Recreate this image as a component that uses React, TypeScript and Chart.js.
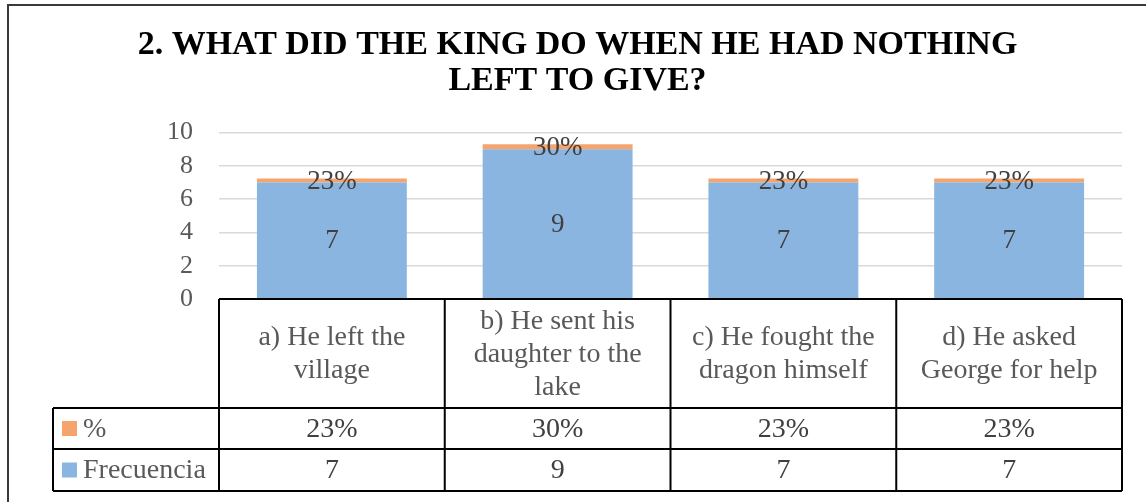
import React, { useEffect, useRef } from "react";
import { Chart, registerables } from "chart.js";

Chart.register(...registerables);

const titleLines = ["2. WHAT DID THE KING DO WHEN HE HAD NOTHING", "LEFT TO GIVE?"];
const categories = [
  ["a) He left the", "village"],
  ["b) He sent his", "daughter to the", "lake"],
  ["c) He fought the", "dragon himself"],
  ["d) He asked", "George for help"],
];
const frecuencia = [7, 9, 7, 7];
const porcentaje = [0.23, 0.3, 0.23, 0.23];
const seriesNames = ["Frecuencia", "%"];
const seriesColors = ["#8AB5E0", "#F4A46C"];
const yMin = 0;
const yMax = 10;
const yStep = 2;

const FONT = "'Liberation Serif', 'Times New Roman', serif";

const fmtPct = (v: number) => Math.round(v * 100) + "%";

const labelPlugin = {
  id: "barLabels",
  afterDatasetsDraw(chart: any) {
    const { ctx } = chart;
    ctx.save();
    ctx.font = `27px ${FONT}`;
    ctx.fillStyle = "#404040";
    ctx.textAlign = "center";
    ctx.textBaseline = "middle";
    chart.data.datasets.forEach((ds: any, di: number) => {
      const meta = chart.getDatasetMeta(di);
      meta.data.forEach((el: any, i: number) => {
        const v = ds.data[i];
        const txt = di === 0 ? String(v) : fmtPct(v);
        const y = (el.y + el.base) / 2;
        ctx.fillText(txt, el.x, y + 1);
      });
    });
    ctx.restore();
  },
};

const tablePlugin = {
  id: "dataTable",
  afterDraw(chart: any) {
    const { ctx, chartArea } = chart;
    const x = chart.scales.x;
    const n = categories.length;
    const colW = (x.right - x.left) / n;
    const top = chartArea.bottom;
    const headerBottom = top + 109;
    const row1Bottom = headerBottom + 41;
    const row2Bottom = row1Bottom + 42;
    const leftCol = 53;
    ctx.save();
    ctx.strokeStyle = "#3a3a3a";
    ctx.lineWidth = 2;
    ctx.beginPath();
    ctx.moveTo(8, 520);
    ctx.lineTo(8, 5);
    ctx.lineTo(1160, 5);
    ctx.stroke();

    ctx.strokeStyle = "#000";
    ctx.lineWidth = 2;
    ctx.beginPath();
    ctx.moveTo(x.left, top);
    ctx.lineTo(x.right, top);
    ctx.moveTo(leftCol, headerBottom);
    ctx.lineTo(x.right, headerBottom);
    ctx.moveTo(leftCol, row1Bottom);
    ctx.lineTo(x.right, row1Bottom);
    ctx.moveTo(leftCol, row2Bottom);
    ctx.lineTo(x.right, row2Bottom);
    ctx.moveTo(leftCol, headerBottom);
    ctx.lineTo(leftCol, row2Bottom);
    for (let i = 0; i <= n; i++) {
      const cx = x.left + i * colW;
      ctx.moveTo(cx, top);
      ctx.lineTo(cx, row2Bottom);
    }
    ctx.stroke();

    ctx.textAlign = "center";
    ctx.textBaseline = "middle";
    ctx.font = `28px ${FONT}`;
    const lineH = 33;
    categories.forEach((lines, i) => {
      const cx = x.getPixelForValue(i);
      const mid = (top + headerBottom) / 2;
      const start = mid - ((lines.length - 1) * lineH) / 2;
      ctx.fillStyle = "#595959";
      lines.forEach((ln, j) => ctx.fillText(ln, cx, start + j * lineH + 1));
      ctx.fillStyle = "#404040";
      ctx.fillText(fmtPct(porcentaje[i]), cx, (headerBottom + row1Bottom) / 2 + 1);
      ctx.fillText(String(frecuencia[i]), cx, (row1Bottom + row2Bottom) / 2 + 1);
    });

    const rows = [
      { name: seriesNames[1], color: seriesColors[1], y: (headerBottom + row1Bottom) / 2 },
      { name: seriesNames[0], color: seriesColors[0], y: (row1Bottom + row2Bottom) / 2 },
    ];
    rows.forEach((r) => {
      ctx.fillStyle = r.color;
      ctx.fillRect(62, r.y - 7.5, 15, 15);
      ctx.fillStyle = "#595959";
      ctx.textAlign = "left";
      ctx.fillText(r.name, 83, r.y + 1);
    });
    ctx.restore();
  },
};

export default function App() {
  const ref = useRef<HTMLCanvasElement | null>(null);
  useEffect(() => {
    if (!ref.current) return;
    const chart = new Chart(ref.current, {
      type: "bar",
      data: {
        labels: categories,
        datasets: [
          {
            label: seriesNames[0],
            data: frecuencia,
            backgroundColor: seriesColors[0],
            categoryPercentage: 1,
            barPercentage: 0.664,
          },
          {
            label: seriesNames[1],
            data: porcentaje,
            backgroundColor: seriesColors[1],
            categoryPercentage: 1,
            barPercentage: 0.664,
          },
        ],
      },
      options: {
        responsive: false,
        animation: false,
        devicePixelRatio: 1,
        layout: { padding: { top: 0, left: 33, right: 24, bottom: 0 } },
        plugins: {
          legend: { display: false },
          tooltip: { enabled: false },
          title: {
            display: true,
            text: titleLines,
            color: "#000",
            font: { family: FONT, size: 34, weight: "bold", lineHeight: 36 / 34 },
            padding: { top: 27, bottom: 33.5 },
          },
        },
        scales: {
          x: {
            stacked: true,
            grid: { display: false },
            border: { display: false },
            ticks: { display: false },
            afterFit: (s: any) => {
              s.height = 203;
            },
          },
          y: {
            stacked: true,
            min: yMin,
            max: yMax,
            ticks: {
              stepSize: yStep,
              autoSkip: false,
              padding: 26,
              color: "#595959",
              font: { family: FONT, size: 26 },
            },
            grid: { color: "#d9d9d9", lineWidth: 1.5, drawTicks: false },
            border: { display: false },
            afterFit: (s: any) => {
              s.width = 186;
            },
          },
        },
      },
      plugins: [labelPlugin, tablePlugin],
    });
    return () => chart.destroy();
  }, []);
  return (
    <div style={{ position: "fixed", left: 0, top: 0, width: 1146, height: 502, background: "#fff" }}>
      <canvas ref={ref} width={1146} height={502} style={{ display: "block" }} />
    </div>
  );
}
